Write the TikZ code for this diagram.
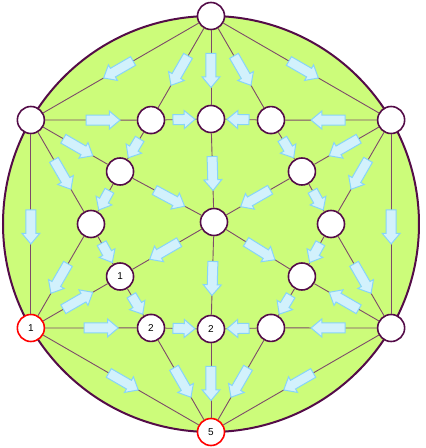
\documentclass[tikz,border=0pt]{standalone}
\usepackage{fontspec}
\setsansfont{Liberation Sans}
\usepackage{xcolor}
\usepackage{tikz}
\usetikzlibrary{shapes.arrows}

\definecolor{discgreen}{RGB}{204,252,122}
\definecolor{plum}{RGB}{84,12,72}
\definecolor{linkplum}{RGB}{125,75,105}
\definecolor{flowblue}{RGB}{135,212,248}
\definecolor{flowfill}{RGB}{210,241,252}

\begin{document}
\begin{tikzpicture}[x=1pt, y=1pt,
    disc/.style={draw=plum, fill=discgreen, line width=2pt},
    station/.style={circle, draw=plum, fill=white, line width=1.6pt, minimum size=27pt, inner sep=0pt, font=\sffamily\fontsize{10}{10}\selectfont},
    marked/.style={station, draw=red},
    link/.style={draw=linkplum, line width=0.9pt},
    flow/.style={single arrow, draw=flowblue, fill=flowfill, line width=1pt, minimum height=34pt, minimum width=17pt, single arrow head extend=4pt, single arrow tip angle=80, inner xsep=0pt, inner ysep=4.5pt, sloped, allow upside down},
    shortflow/.style={flow, minimum height=22pt}]

    \useasboundingbox (-211,-224) rectangle (215,224);
    \draw [disc] (0,0) circle (208);

    % outer ring
    \node [station] (top) at (90:208) {};
    \node [station] (upright) at (30:208) {};
    \node [station] (lowright) at (-30:208) {};
    \node [marked] (bottom) at (-90:208) {5};
    \node [marked] (lowleft) at (210:208) {1};
    \node [station] (upleft) at (150:208) {};

    % inner ring
    \node [station] (an) at (90:105) {};
    \node [station] (ane) at (30:105) {};
    \node [station] (ase) at (-30:105) {};
    \node [station] (as) at (-90:105) {2};
    \node [station] (asw) at (210:105) {1};
    \node [station] (anw) at (150:105) {};
    \node [station] (bne) at (60:120) {};
    \node [station] (be) at (0:120) {};
    \node [station] (bse) at (-60:120) {};
    \node [station] (bsw) at (240:120) {2};
    \node [station] (bw) at (180:120) {};
    \node [station] (bnw) at (120:120) {};
    \node [station] (mid) at (3,2) {};

    % Arrows
    \draw [link] (top) -- node [flow] {} (upleft);
    \draw [link] (top) -- node [flow] {} (bnw);
    \draw [link] (top) -- node [flow] {} (an);
    \draw [link] (top) -- node [flow] {} (bne);
    \draw [link] (top) -- node [flow] {} (upright);
    \draw [link] (upleft) -- node [flow, pos=.6] {} (bnw);
    \draw [link] (upleft) -- node [flow] {} (anw);
    \draw [link] (upleft) -- node [flow] {} (bw);
    \draw [link] (upleft) -- node [flow] {} (lowleft);
    \draw [link] (upright) -- node [flow] {} (bne);
    \draw [link] (upright) -- node [flow] {} (ane);
    \draw [link] (upright) -- node [flow] {} (be);
    \draw [link] (upright) -- node [flow] {} (lowright);
    \draw [link] (bnw) -- node [shortflow] {} (an);
    \draw [link] (bnw) -- node [shortflow] {} (anw);
    \draw [link] (bne) -- node [shortflow] {} (an);
    \draw [link] (bne) -- node [shortflow] {} (ane);
    \draw [link] (an) -- node [flow] {} (mid);
    \draw [link] (anw) -- node [flow] {} (mid);
    \draw [link] (ane) -- node [flow] {} (mid);
    \draw [link] (anw) -- node [shortflow] {} (bw);
    \draw [link] (ane) -- node [shortflow] {} (be);
    \draw [link] (mid) -- node [flow] {} (asw);
    \draw [link] (mid) -- node [flow] {} (ase);
    \draw [link] (mid) -- node [flow] {} (as);
    \draw [link] (bw) -- node [shortflow] {} (asw);
    \draw [link] (bw) -- node [flow] {} (lowleft);
    \draw [link] (be) -- node [shortflow] {} (ase);
    \draw [link] (be) -- node [flow] {} (lowright);
    \draw [link] (lowleft) -- node [flow] {} (asw);
    \draw [link] (lowleft) -- node [flow, pos=.58] {} (bsw);
    \draw [link] (lowleft) -- node [flow] {} (bottom);
    \draw [link] (lowright) -- node [flow] {} (ase);
    \draw [link] (lowright) -- node [flow] {} (bse);
    \draw [link] (lowright) -- node [flow] {} (bottom);
    \draw [link] (asw) -- node [shortflow] {} (bsw);
    \draw [link] (ase) -- node [shortflow] {} (bse);
    \draw [link] (bsw) -- node [shortflow] {} (as);
    \draw [link] (bsw) -- node [flow] {} (bottom);
    \draw [link] (bse) -- node [shortflow] {} (as);
    \draw [link] (bse) -- node [flow] {} (bottom);
    \draw [link] (as) -- node [flow] {} (bottom);
\end{tikzpicture}
\end{document}
